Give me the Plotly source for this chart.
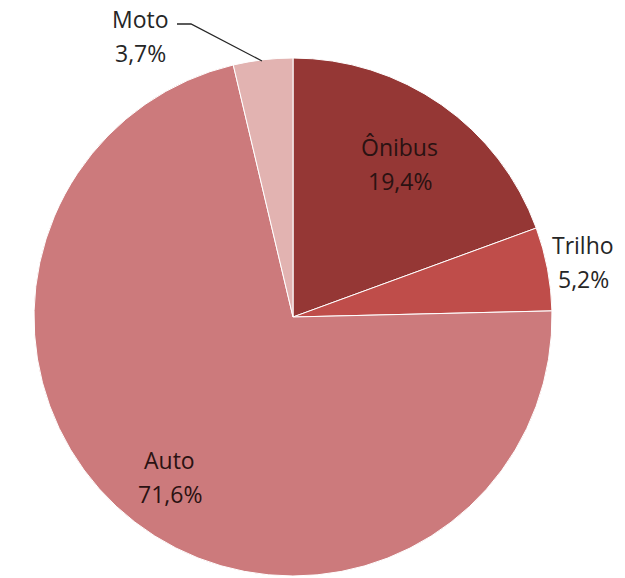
import math
import plotly.graph_objects as go

# Modal split of trips
labels = ["Ônibus", "Trilho", "Auto", "Moto"]
shares = [19.4, 5.2, 71.6, 3.7]
colors = ["#953735", "#BF4D4A", "#CC7A7C", "#E2B3B1"]
pct_text = ["19,4%", "5,2%", "71,6%", "3,7%"]

W, H = 625, 578
CX, CY, R = 293, 317, 259  # pie centre and radius in pixels
LINE_GAP = 17               # half the spacing between label lines, px
FONT = "Open Sans"


def px_to_paper(x, y):
    return x / W, 1 - y / H


def label_block(x, y, name, pct, color):
    """Two-line label (name over percentage) centred at pixel (x, y)."""
    out = []
    for text, dy in ((name, -LINE_GAP), (pct, LINE_GAP)):
        px, py = px_to_paper(x, y + dy)
        out.append(dict(
            x=px, y=py, xref="paper", yref="paper", text=text,
            showarrow=False, xanchor="center", yanchor="middle",
            font=dict(family=FONT, size=23, color=color),
        ))
    return out


fig = go.Figure(
    go.Pie(
        labels=labels,
        values=shares,
        sort=False,
        direction="clockwise",
        rotation=0,
        marker=dict(colors=colors, line=dict(color="white", width=1)),
        textinfo="none",
        hoverinfo="label+percent",
        domain=dict(
            x=[(CX - R) / W, (CX + R) / W],
            y=[1 - (CY + R) / H, 1 - (CY - R) / H],
        ),
        showlegend=False,
    )
)

# Radial placement factor per slice (below 1 = inside the pie)
radial = {"Ônibus": 0.72, "Trilho": 1.14, "Auto": 0.78}
total = sum(shares)
cum = 0.0
annotations = []
for lab, val, txt in zip(labels, shares, pct_text):
    mid = (cum + val / 2) / total * 2 * math.pi
    cum += val
    if lab not in radial:
        continue
    r = radial[lab] * R
    x = CX + r * math.sin(mid)
    y = CY - r * math.cos(mid)
    color = "#2a1212" if radial[lab] < 1 else "#262626"
    annotations += label_block(x, y, lab, txt, color)

# Moto label sits above the pie, joined by a leader line
annotations += label_block(140, 36, labels[3], pct_text[3], "#262626")

p0 = px_to_paper(177, 24)
p1 = px_to_paper(191, 24)
p2 = px_to_paper(262, 61)
shapes = [dict(type="path", xref="paper", yref="paper",
               path=f"M {p0[0]},{p0[1]} L {p1[0]},{p1[1]} L {p2[0]},{p2[1]}",
               line=dict(color="#262626", width=1.3))]

fig.update_layout(
    width=W, height=H,
    margin=dict(l=0, r=0, t=0, b=0),
    paper_bgcolor="white",
    plot_bgcolor="white",
    annotations=annotations,
    shapes=shapes,
)

fig.write_html("out.html")
